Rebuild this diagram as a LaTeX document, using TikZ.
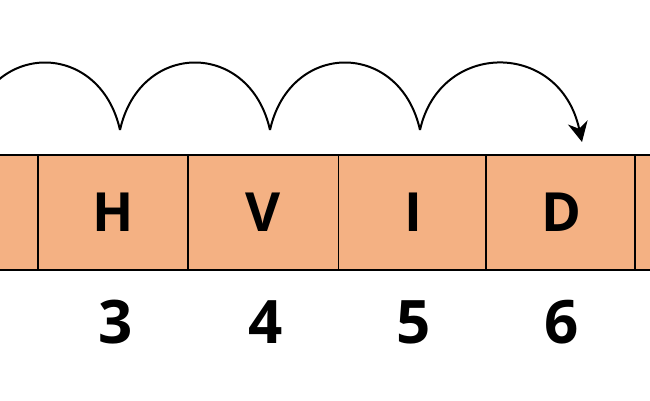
\documentclass[tikz,border=0pt]{standalone}
\usepackage{fontspec}
\setmainfont{Open Sans}
\usetikzlibrary{arrows.meta}
\definecolor{cellfill}{HTML}{F4B183}
\begin{document}
\begin{tikzpicture}[x=1pt,y=-1pt,
  cell/.style={draw=black,fill=cellfill,line width=1.6pt,minimum width=150pt,minimum height=115pt,inner sep=0pt,font=\fontsize{54}{54}\selectfont\bfseries},
  num/.style={font=\fontsize{60}{60}\selectfont\bfseries},
  hop/.style={line width=2pt}]
\useasboundingbox (0,0) rectangle (650,400);
\clip (0,0) rectangle (650,400);
\node[cell] (c2) at (-37,212.5) {};
\node[cell] (c3) at (113,212.5) {H};
\node[cell] (c4) at (263.5,212.5) {V};
\node[cell] (c5) at (413.5,212.5) {I};
\node[cell] (c6) at (561,212.5) {D};
\node[cell] (c7) at (710,212.5) {};
\node[num] (n3) at (116,322) {3};
\node[num] (n4) at (266,322) {4};
\node[num] (n5) at (414,322) {5};
\node[num] (n6) at (562,322) {6};
\coordinate (p0) at (-30,130);
\coordinate (p1) at (120,130);
\coordinate (p2) at (270,130);
\coordinate (p3) at (420,130);
\coordinate (p4) at (582,142);
\draw[hop] (p0) .. controls (-10,40) and (100,40) .. (p1);
\draw[hop] (p1) .. controls (140,40) and (250,40) .. (p2);
\draw[hop] (p2) .. controls (290,40) and (400,40) .. (p3);
\draw[hop,-{Stealth[length=20pt,width=20pt]}] (p3) .. controls (440,40) and (560,40) .. (p4);
\end{tikzpicture}
\end{document}
